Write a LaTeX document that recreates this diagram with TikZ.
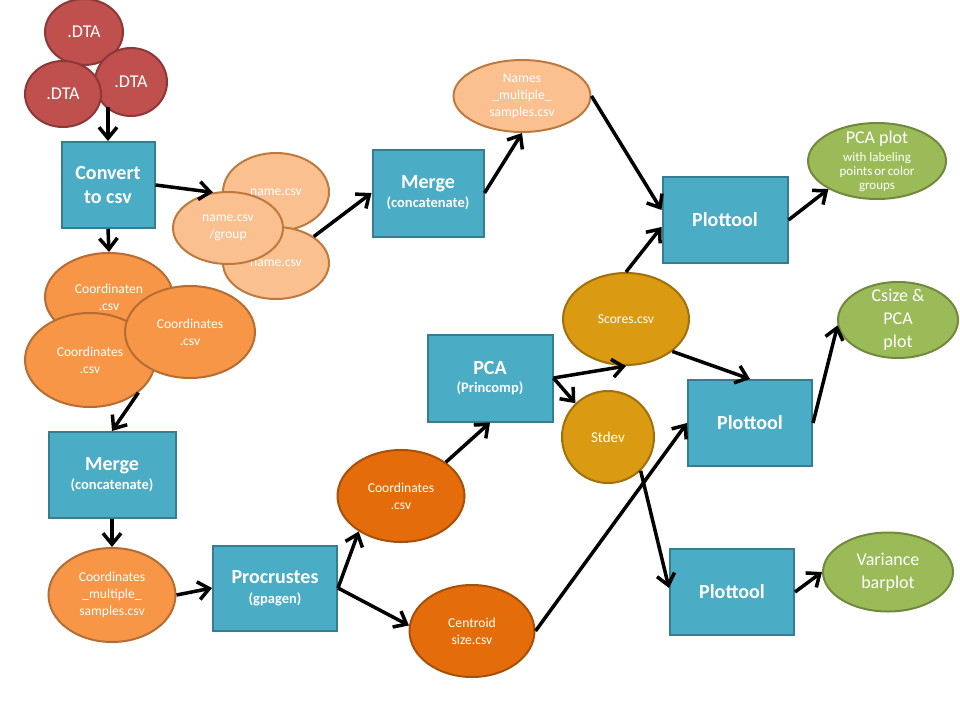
\documentclass[tikz,border=0pt]{standalone}
\usepackage{fontspec}
\setmainfont{Carlito}
\usetikzlibrary{arrows.meta,shapes.geometric}
\definecolor{boxfill}{RGB}{75,172,198}
\definecolor{boxline}{RGB}{53,125,145}
\definecolor{dtafill}{RGB}{192,80,77}
\definecolor{dtaline}{RGB}{140,56,54}
\definecolor{lightfill}{RGB}{250,192,144}
\definecolor{lightline}{RGB}{190,122,62}
\definecolor{orfill}{RGB}{247,150,70}
\definecolor{orline}{RGB}{182,109,51}
\definecolor{dorfill}{RGB}{228,108,10}
\definecolor{dorline}{RGB}{167,80,10}
\definecolor{goldfill}{RGB}{218,155,18}
\definecolor{goldline}{RGB}{160,112,14}
\definecolor{grnfill}{RGB}{155,187,89}
\definecolor{grnline}{RGB}{113,137,63}

\begin{document}
\begin{tikzpicture}[x=1pt,y=-1pt,
  box/.style={draw=boxline,fill=boxfill,line width=2pt,text=white,align=center,inner sep=0pt,font=\bfseries\fontsize{20}{24}\selectfont},
  sz/.style 2 args={minimum width=#1pt,minimum height=#2pt},
  ell/.style={ellipse,line width=2pt,inner sep=0pt},
  dta/.style={ell,fill=dtafill,draw=dtaline},
  light/.style={ell,fill=lightfill,draw=lightline},
  orng/.style={ell,fill=orfill,draw=orline},
  dorng/.style={ell,fill=dorfill,draw=dorline},
  gold/.style={ell,fill=goldfill,draw=goldline},
  grn/.style={ell,fill=grnfill,draw=grnline},
  etxt/.style={text=white,align=center,font=\fontsize{13.6}{17}\selectfont},
  dtxt/.style={text=white,font=\fontsize{18}{22}\selectfont},
  big/.style={text=white,align=center,font=\fontsize{18}{23}\selectfont},
  arr/.style={-{Straight Barb[length=11pt,width=18pt]},line width=3.5pt}]
  \useasboundingbox[fill=white] (0,0) rectangle (960,720);

  \node[dta,sz={78}{66},label={[dtxt]center:.DTA}] (dtaT) at (84,32) {};
  \node[dta,sz={72}{68},label={[dtxt]center:.DTA}] (dtaR) at (131,82) {};
  \node[dta,sz={76}{66},label={[dtxt]center:.DTA}] (dtaL) at (63,94) {};
  \node[box,sz={93}{86}] (conv) at (108,185) {Convert\\to csv};

  \node[light,sz={106}{78},label={[etxt]center:name.csv}] (nameA) at (276,192) {};
  \node[light,sz={106}{72},label={[etxt]center:name.csv}] (nameB) at (276,263) {};
  \node[light,sz={110}{72},label={[etxt]center:name.csv\\/group}] (nameG) at (228,228) {};
  \node[box,sz={111}{87}] (merge2) at (428,193) {Merge\\[-5pt]{\fontsize{14.5}{16}\selectfont(concatenate)}};
  \node[light,sz={137}{72},label={[etxt]center:Names\\\_multiple\_\\samples.csv}] (namesM) at (522,96) {};

  \node[orng,sz={128}{88},label={[etxt]center:Coordinaten\\.csv}] (coordA) at (109,297) {};
  \node[orng,sz={130}{94},label={[etxt]center:Coordinates\\.csv}] (coordL) at (90,360) {};
  \node[orng,sz={130}{92},label={[etxt]center:Coordinates\\.csv}] (coordR) at (190,332) {};
  \node[box,sz={127}{86}] (merge1) at (112,475) {Merge\\[-5pt]{\fontsize{14.5}{16}\selectfont(concatenate)}};
  \node[orng,sz={127}{94},label={[etxt]center:Coordinates\\\_multiple\_\\samples.csv}] (coordM) at (112,595) {};
  \node[box,sz={124}{85}] (procr) at (275,588) {Procrustes\\[-4pt]{\fontsize{14.5}{16}\selectfont(gpagen)}};

  \node[dorng,sz={127}{92},label={[etxt]center:Coordinates\\.csv}] (coordP) at (401,496) {};
  \node[dorng,sz={125}{92},label={[etxt]center:Centroid\\size.csv}] (centroid) at (472,631) {};
  \node[box,sz={125}{87}] (pca) at (490,378) {PCA\\[-6pt]{\fontsize{14.5}{16}\selectfont(Princomp)}};
  \node[gold,sz={126}{92},label={[etxt]center:Scores.csv}] (scores) at (626,319) {};
  \node[gold,sz={92}{92},label={[etxt,font=\fontsize{15}{18}\selectfont]center:Stdev}] (stdev) at (608,437) {};

  \node[box,sz={125}{86}] (plotA) at (725,220) {Plottool};
  \node[box,sz={124}{86}] (plotB) at (750,423) {Plottool};
  \node[box,sz={124}{86}] (plotC) at (732,592) {Plottool};
  \node[grn,sz={138}{76},label={[etxt,font=\fontsize{13}{14}\selectfont]center:{\fontsize{18}{20}\selectfont PCA plot}\\[4pt]with labeling\\points\hspace{2pt}or\hspace{2pt}color\\groups}] (pcaplot) at (877,161) {};
  \node[grn,sz={120}{76},label={[big]center:Csize \&\\PCA\\plot}] (csize) at (898,320) {};
  \node[grn,sz={130}{79},label={[big]center:Variance\\barplot}] (variance) at (888,572) {};

  \draw[arr] (conv.north |- dtaL.-20) -- (conv.north);
  \draw[arr] (conv.east) -- (nameG.113);
  \draw[arr] (conv.south) -- (coordA.north);
  \draw[arr] (nameB.35) -- (merge2.west);
  \draw[arr] (merge2.east) -- (namesM.south);
  \draw[arr] (namesM.east) -- ([yshift=10pt]plotA.west);
  \draw[arr] (scores.north) -- ([yshift=-7pt]plotA.west);
  \draw[arr] (plotA.east) -- (pcaplot.210);
  \draw[arr] (coordL.-34) -- (merge1.north);
  \draw[arr] (merge1.south) -- (coordM.north);
  \draw[arr] (coordM.east) -- (procr.west);
  \draw[arr] (procr.east) -- (coordP.220);
  \draw[arr] (procr.east) -- (centroid.175);
  \draw[arr] (coordP.37) -- (pca.south);
  \draw[arr] (pca.east) -- (scores.south);
  \draw[arr] (pca.east) -- (stdev.134);
  \draw[arr] (scores.-35) -- (plotB.north);
  \draw[arr] (centroid.east) -- (plotB.west);
  \draw[arr] (stdev.-46) -- ([yshift=4pt]plotC.west);
  \draw[arr] (plotB.east) -- (csize.185);
  \draw[arr] (plotC.east) -- (variance.west);
\end{tikzpicture}
\end{document}
